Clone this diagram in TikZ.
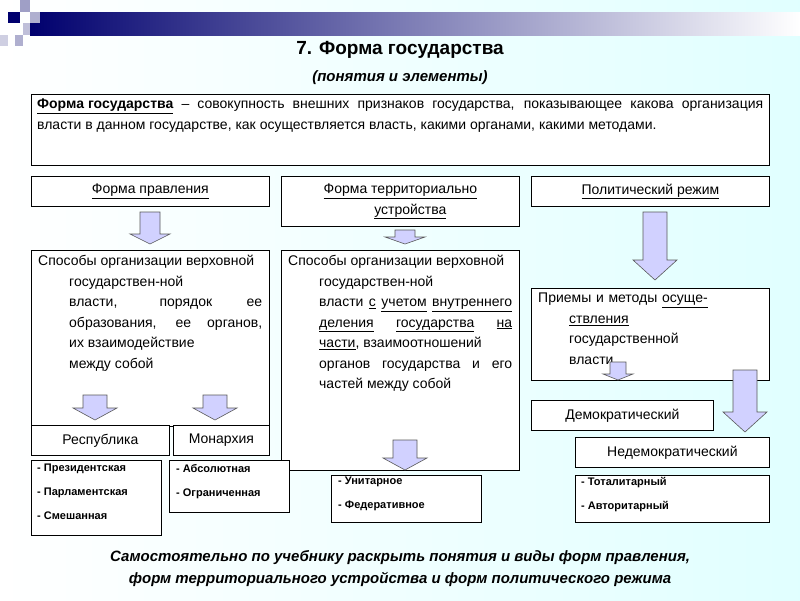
\documentclass[tikz,border=0pt]{standalone}
\usepackage{fontspec}
\setmainfont{Liberation Sans}
\definecolor{navyb}{RGB}{0,0,110}
\newcommand\myul[1]{\underline{#1}}
\begin{document}
\begin{tikzpicture}[x=1pt,y=-1pt,
 box/.style={draw=black,fill=white,line width=0.8pt},
 arr/.style={draw=gray!70!black,fill=blue!18!white,line width=0.6pt},
 txt/.style={font=\fontsize{14}{20.5}\selectfont,align=left},
 blt/.style={font=\fontsize{11}{24}\selectfont\bfseries,align=left,anchor=north west,inner sep=0pt}]
\useasboundingbox (0,0) rectangle (800,600);
\shade[left color=white,right color=cyan!12] (0,0) rectangle (800,600);
\shade[left color=navyb,right color=white] (30,12) rectangle (800,35);
\fill[navyb] (8,12) rectangle (20,23);
\fill[blue!25!gray!60] (20,0) rectangle (30,12);
\fill[blue!25!gray!50] (30,12) rectangle (40,23);
\fill[blue!25!gray!50] (15,35) rectangle (23,46);
\fill[blue!25!gray!30] (0,35) rectangle (8,46);
\fill[blue!25!gray!40] (23,23) rectangle (30,35);
\node[font=\fontsize{19}{22}\selectfont\bfseries] (title) at (400,50) {7. Форма государства};
\node[font=\fontsize{15}{18}\selectfont\bfseries\itshape] (sub) at (400,78) {(понятия и элементы)};
% definition
\node[box,minimum width=738,minimum height=71,anchor=north west] (def) at (31,94) {};
\node[txt,text width=726,align=justify,anchor=north west,inner sep=0pt] (deft) at (37,99) {\myul{\textbf{Форма}}\myul{\textbf{ государства}} – совокупность внешних признаков государства, показывающее какова организация власти в данном государстве, как осуществляется власть, какими органами, какими методами.};
% headers
\node[box,minimum width=238,minimum height=30,anchor=north west] (h1) at (31,176) {};
\node[txt] at (h1.center) {\myul{Форма правления}};
\node[box,minimum width=238,minimum height=50,anchor=north west] (h2) at (281,176) {};
\node[txt,align=center] at (h2.center) {\myul{Форма территориально}\\\hspace*{20pt}\myul{устройства}};
\node[box,minimum width=238,minimum height=30,anchor=north west] (h3) at (531,176) {};
\node[txt] at (h3.center) {\myul{Политический режим}};
% big boxes
\node[box,minimum width=238,minimum height=176,anchor=north west] (b1) at (31,250) {};
\node[txt,text width=224,align=justify,anchor=north west,inner sep=0pt] (b1t) at (38,255) {\hangindent=31pt\hangafter=1 Способы организации верховной\newline государствен-ной\newline власти, порядок ее образования, ее органов, их взаимодействие\newline между собой\par};
\node[box,minimum width=238,minimum height=220,anchor=north west] (b2) at (281,250) {};
\node[txt,text width=224,align=justify,anchor=north west,inner sep=0pt] (b2t) at (288,255) {\hangindent=31pt\hangafter=1 Способы организации верховной\newline государствен-ной\newline власти \myul{с} \myul{учетом} \myul{внутреннего} \myul{деления} \myul{государства} \myul{на} \myul{части}, взаимоотношений\newline органов государства и его частей между собой\par};
\node[box,minimum width=238,minimum height=92,anchor=north west] (b3) at (531,288) {};
\node[txt,text width=224,anchor=north west,inner sep=0pt] (b3t) at (538,293) {\hangindent=31pt\hangafter=1 Приемы и методы \myul{осуще-}\newline\myul{ствления}\newline государственной\newline власти\par};
% sub boxes
\node[box,minimum width=138,minimum height=30,anchor=north west] (rep) at (31,425) {};
\node[txt] at (rep.center) {Республика};
\node[box,minimum width=96,minimum height=30,anchor=north west] (mon) at (173,425) {};
\node[txt] at (mon.center) {Монархия};
\node[box,minimum width=182,minimum height=30,anchor=north west] (dem) at (531,400) {};
\node[txt] at (dem.center) {Демократический};
\node[box,minimum width=194,minimum height=30,anchor=north west] (ndem) at (575,437) {};
\node[txt] at (ndem.center) {Недемократический};
% bullet boxes
\node[box,minimum width=130,minimum height=75,anchor=north west] (l1) at (31,460) {};
\node[blt] at (37,464) {- Президентская\\- Парламентская\\- Смешанная};
\node[box,minimum width=120,minimum height=52,anchor=north west] (l2) at (169,460) {};
\node[blt] at (176,464) {- Абсолютная\\- Ограниченная};
\node[box,minimum width=150,minimum height=47,anchor=north west] (l3) at (331,475) {};
\node[blt] at (338,477) {- Унитарное\\- Федеративное};
\node[box,minimum width=194,minimum height=47,anchor=north west] (l4) at (575,475) {};
\node[blt] at (581,477) {- Тоталитарный\\- Авторитарный};
% block arrows
\newcommand\blkarr[6]{\draw[arr] ({#1-#4},#2) -- ({#1+#4},#2) -- ({#1+#4},{#3-#6}) -- ({#1+#5},{#3-#6}) -- (#1,#3) -- ({#1-#5},{#3-#6}) -- ({#1-#4},{#3-#6}) -- cycle;}
\blkarr{150}{212}{244}{10}{20}{10}
\blkarr{405}{230}{244}{10}{20}{7}
\blkarr{655}{212}{280}{12}{22}{20}
\blkarr{95}{395}{420}{12}{22}{12}
\blkarr{215}{395}{420}{12}{22}{12}
\blkarr{405}{440}{470}{12}{22}{12}
\blkarr{745}{370}{432}{12}{22}{20}
\blkarr{618}{362}{380}{8}{15}{6}
% bottom
\node[font=\fontsize{15}{22}\selectfont\bfseries\itshape,align=center] (foot) at (400,569) {Самостоятельно по учебнику раскрыть понятия и виды форм правления,\\форм территориального устройства и форм политического режима};
\end{tikzpicture}
\end{document}
